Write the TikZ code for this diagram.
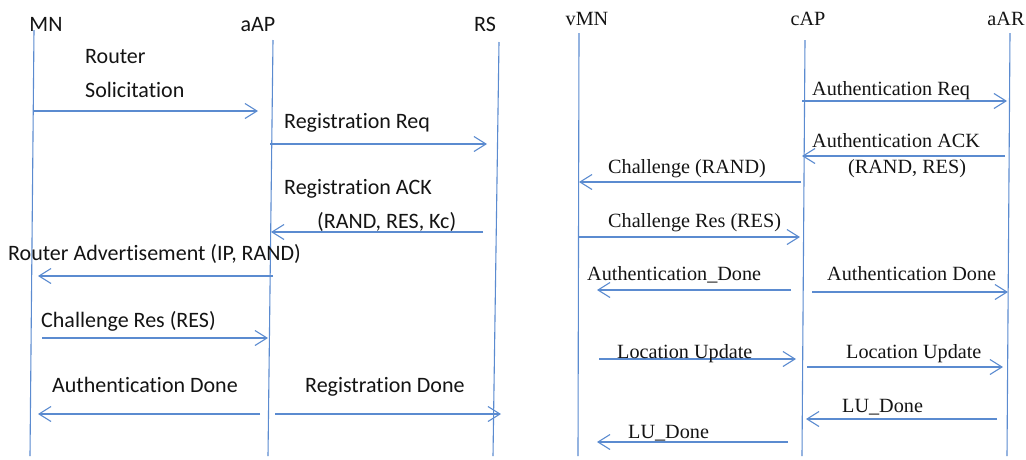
\documentclass[tikz,border=0pt]{standalone}
\usepackage{fontspec}
\setmainfont{Carlito}[Ligatures=NoCommon]
\newfontfamily\tnr{Liberation Serif}
\usetikzlibrary{arrows.meta}
\definecolor{lineblue}{RGB}{91,139,208}
\definecolor{txt}{RGB}{20,20,20}
\begin{document}
\begin{tikzpicture}[x=1pt,y=-1pt,
  life/.style={draw=lineblue,line width=1.1pt},
  msg/.style={draw=lineblue,line width=1.1pt,-{Straight Barb[length=12pt,width=15pt,line width=1.1pt]}},
  sl/.style={anchor=base west,inner sep=0pt,text=txt,font=\fontsize{22}{26}\selectfont},
  tl/.style={anchor=base west,inner sep=0pt,text=txt,font=\tnr\fontsize{20.2}{24}\selectfont},
  head/.style={anchor=base,inner sep=0pt,text=txt},
]
\useasboundingbox (0,0) rectangle (1026,459);
% ---------- left diagram ----------
\node[head,font=\fontsize{22}{26}\selectfont] (MN) at (46,31) {MN};
\node[head,font=\fontsize{22}{26}\selectfont] (aAP) at (258,31) {aAP};
\node[head,font=\fontsize{22}{26}\selectfont] (RS) at (485,31) {RS};
\coordinate (MNt) at (34,30);  \coordinate (MNb) at (30,456);
\coordinate (aAPt) at (273,40); \coordinate (aAPb) at (268,456);
\coordinate (RSt) at (499,42); \coordinate (RSb) at (493,456);
\draw[life] (MNt) -- (MNb);
\draw[life] (aAPt) -- (aAPb);
\draw[life] (RSt) -- (RSb);

\coordinate (l1a) at (34,111); \coordinate (l1b) at (258,111);
\draw[msg] (l1a) -- (l1b);
\node[sl] (t1a) at (85,63) {Router};
\node[sl] (t1b) at (85,97) {Solicitation};

\coordinate (l2a) at (270,144); \coordinate (l2b) at (487,144);
\draw[msg] (l2a) -- (l2b);
\node[sl] (t2) at (284,128) {Registration Req};

\coordinate (l3a) at (483,232); \coordinate (l3b) at (271,232);
\draw[msg] (l3a) -- (l3b);
\node[sl] (t3a) at (284,194) {Registration ACK};
\node[sl] (t3b) at (317,228) {(RAND, RES, Kc)};

\coordinate (l4a) at (273,276); \coordinate (l4b) at (38,276);
\draw[msg] (l4a) -- (l4b);
\node[sl] (t4) at (8,260) {Router Advertisement (IP, RAND)};

\coordinate (l5a) at (42,338); \coordinate (l5b) at (268,338);
\draw[msg] (l5a) -- (l5b);
\node[sl] (t5) at (41,327) {Challenge Res (RES)};

\coordinate (l6a) at (260,414); \coordinate (l6b) at (38,414);
\draw[msg] (l6a) -- (l6b);
\node[sl] (t6) at (52,392) {Authentication Done};

\coordinate (l7a) at (275,414); \coordinate (l7b) at (501,414);
\draw[msg] (l7a) -- (l7b);
\node[sl] (t7) at (305,392) {Registration Done};

% ---------- right diagram ----------
\node[head,font=\tnr\fontsize{20.2}{24}\selectfont] (vMN) at (587,25) {vMN};
\node[head,font=\tnr\fontsize{20.2}{24}\selectfont] (cAP) at (808,25) {cAP};
\node[head,font=\tnr\fontsize{20.2}{24}\selectfont] (aAR) at (1006,25) {aAR};
\coordinate (vMNt) at (579,33); \coordinate (vMNb) at (578,456);
\coordinate (cAPt) at (805,40); \coordinate (cAPb) at (802,456);
\coordinate (aARt) at (1010,33); \coordinate (aARb) at (1007,456);
\draw[life] (vMNt) -- (vMNb);
\draw[life] (cAPt) -- (cAPb);
\draw[life] (aARt) -- (aARb);

\coordinate (r1a) at (802,101); \coordinate (r1b) at (1007,101);
\draw[msg] (r1a) -- (r1b);
\node[tl] (u1) at (812,95) {Authentication Req};

\coordinate (r2a) at (1005,156); \coordinate (r2b) at (802,156);
\draw[msg] (r2a) -- (r2b);
\node[tl] (u2a) at (812,147) {Authentication ACK};
\node[tl] (u2b) at (848,173) {(RAND, RES)};

\coordinate (r3a) at (801,182); \coordinate (r3b) at (579,182);
\draw[msg] (r3a) -- (r3b);
\node[tl] (u3) at (608,173) {Challenge (RAND)};

\coordinate (r4a) at (579,237); \coordinate (r4b) at (800,237);
\draw[msg] (r4a) -- (r4b);
\node[tl] (u4) at (608,227) {Challenge Res (RES)};

\coordinate (r5a) at (791,290); \coordinate (r5b) at (597,290);
\draw[msg] (r5a) -- (r5b);
\node[tl] (u5) at (587,280) {Authentication\_Done};

\coordinate (r6a) at (812,292); \coordinate (r6b) at (1008,292);
\draw[msg] (r6a) -- (r6b);
\node[tl] (u6) at (827,280) {Authentication Done};

\coordinate (r7a) at (599,359); \coordinate (r7b) at (796,359);
\draw[msg] (r7a) -- (r7b);
\node[tl] (u7) at (617,358) {Location Update};

\coordinate (r8a) at (807,367); \coordinate (r8b) at (1003,367);
\draw[msg] (r8a) -- (r8b);
\node[tl] (u8) at (846,358) {Location Update};

\coordinate (r9a) at (997,419); \coordinate (r9b) at (806,419);
\draw[msg] (r9a) -- (r9b);
\node[tl] (u9) at (842,412) {LU\_Done};

\coordinate (r10a) at (788,442); \coordinate (r10b) at (597,442);
\draw[msg] (r10a) -- (r10b);
\node[tl] (u10) at (628,438) {LU\_Done};
\end{tikzpicture}
\end{document}
